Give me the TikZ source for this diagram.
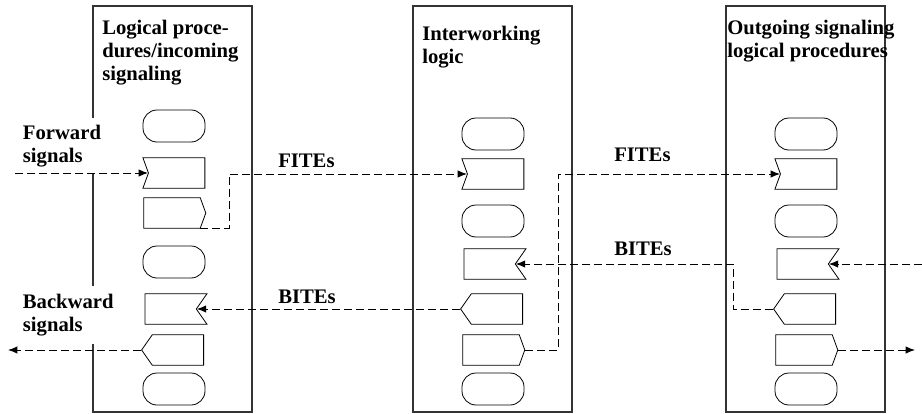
\documentclass[tikz,border=0pt]{standalone}
\usepackage{fontspec}
\setmainfont{Liberation Serif}
\usetikzlibrary{shapes,arrows.meta}

\begin{document}
\begin{tikzpicture}[x=0.75pt,y=-0.75pt,>={Latex[length=7pt,width=5.5pt]},
  proc box/.style={draw=black!80,line width=0.8pt,minimum width=119.25pt,minimum height=304.5pt,inner sep=0pt},
  sdl node/.style={draw,line width=0.6pt,minimum width=46.5pt,minimum height=23pt,inner sep=0pt},
  state node/.style={sdl node,rectangle,rounded corners=10.5pt,minimum height=24pt},
  in left/.style={sdl node,signal,signal from=west,signal to=nowhere,signal pointer angle=140,xshift=2pt},
  in right/.style={sdl node,signal,signal from=east,signal to=nowhere,signal pointer angle=110,xshift=-2.5pt},
  out right/.style={sdl node,signal,signal to=east,signal pointer angle=140,xshift=-1.5pt},
  out left/.style={sdl node,signal,signal to=west,signal pointer angle=110,xshift=3pt},
  lbl/.style={font=\bfseries\fontsize{15.5}{17.25}\selectfont,align=left,inner sep=0pt},
  sig/.style={dash pattern=on 6pt off 3pt,line width=0.7pt}]

  \useasboundingbox (0,0) rectangle (922,414);

  % the three blocks
  \node[proc box] (B1) at (172.5,209) {};
  \node[proc box] (B2) at (492.5,209) {};
  \node[proc box] (B3) at (805.5,209) {};

  \node[lbl,anchor=north west] (T1) at (102,20) {Logical proce-\\dures/incoming\\signaling};
  \node[lbl,anchor=north west] (T2) at (422,26) {Interworking\\logic};
  \node[lbl,anchor=north west] (T3) at (727,20) {Outgoing signaling\\logical procedures};

  \node[lbl,anchor=north west,fill=white,inner xsep=2pt,inner ysep=5pt] (fwdtxt) at (20,118) {Forward\\signals};
  \node[lbl,anchor=north west,fill=white,inner xsep=2pt,inner ysep=6pt] (bwdtxt) at (20,286) {Backward\\signals};

  % incoming side
  \node[state node] (L1) at (174,126) {};
  \node[in left]    (L2) at (174,173) {};
  \node[out right]  (L3) at (174,213) {};
  \node[state node] (L4) at (174,262) {};
  \node[in right]   (L5) at (174,309) {};
  \node[out left]   (L6) at (174,350) {};
  \node[state node] (L7) at (174,389) {};

  % interworking
  \node[state node] (I1) at (493,134) {};
  \node[in left]    (I2) at (493,174) {};
  \node[state node] (I3) at (493,221) {};
  \node[in right]   (I4) at (493,264) {};
  \node[out left]   (I5) at (493,309) {};
  \node[out right]  (I6) at (493,350) {};
  \node[state node] (I7) at (493,389) {};

  % outgoing side
  \node[state node] (O1) at (806,134) {};
  \node[in left]    (O2) at (806,174) {};
  \node[state node] (O3) at (806,221) {};
  \node[in right]   (O4) at (806,264) {};
  \node[out left]   (O5) at (806,309) {};
  \node[out right]  (O6) at (806,350) {};
  \node[state node] (O7) at (806,389) {};

  \coordinate (fwd) at (15,173);
  \coordinate (bwd) at (8,350);
  \coordinate (fw1) at (229,174);
  \coordinate (fw2) at (558,174);
  \coordinate (bk2) at (733,264);
  \coordinate (rin) at (922,264);
  \coordinate (rout) at (915,350);

  \draw[sig,->] (fwd) -- (L2.west);
  \draw[sig,->] (L3.south east) -| (fw1) -- (I2.west);
  \draw[sig,->] (I6.east) -| (fw2) -- (O2.west);
  \draw[sig,->] (rin) -- (O4.east);
  \draw[sig,->] (O5.west) -| (bk2) -- (I4.east);
  \draw[sig,->] (I5.west) -- (L5.east);
  \draw[sig,->] (L6.west) -- (bwd);
  \draw[sig,->] (O6.east) -- (rout);

  \node[lbl,anchor=base west] (f1) at (278,167) {FITEs};
  \node[lbl,anchor=base west] (f2) at (614,161) {FITEs};
  \node[lbl,anchor=base west] (b1) at (278,303) {BITEs};
  \node[lbl,anchor=base west] (b2) at (614,255) {BITEs};
\end{tikzpicture}
\end{document}
